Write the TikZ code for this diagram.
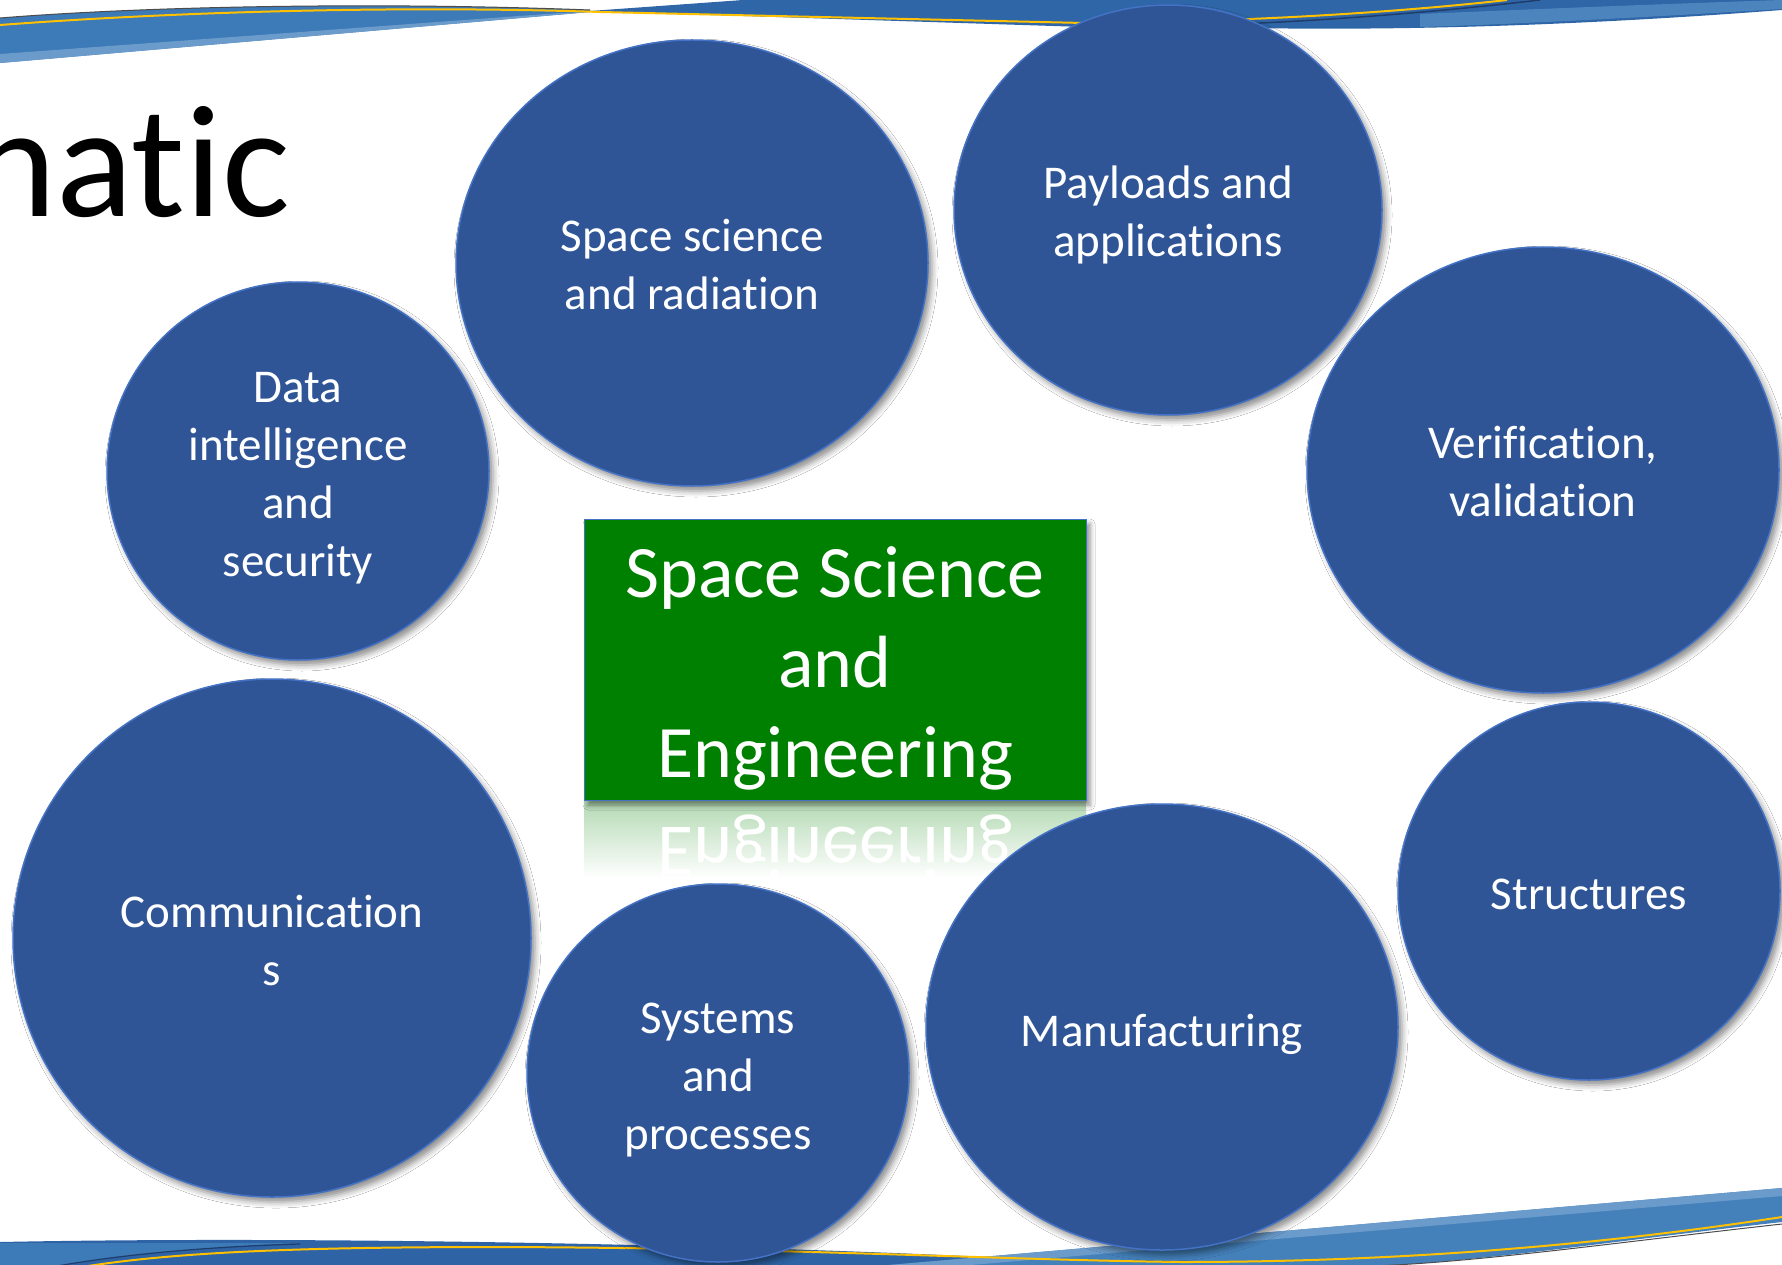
\documentclass[tikz,border=0pt]{standalone}
\usepackage{fontspec}
\usepackage{graphicx}
\setmainfont[Ligatures={NoCommon,NoRare}]{Carlito}
\newcommand\nl{\kern0pt }
\usetikzlibrary{shapes.geometric,shadows.blur}
\definecolor{bub}{HTML}{2F5597}
\definecolor{bubedge}{HTML}{4472C4}
\definecolor{boxgreen}{HTML}{008000}
\definecolor{bandA}{HTML}{3D7AB8}
\definecolor{bandAlight}{HTML}{6A9BCB}
\definecolor{bandB}{HTML}{2E66A7}
\definecolor{bandD}{HTML}{2E64A5}
\definecolor{bandC}{HTML}{4481BB}
\definecolor{gold}{HTML}{FFC000}
\definecolor{navy}{HTML}{1F3D6B}
\begin{document}
\begin{tikzpicture}[x=1pt,y=-1pt,
  bubble/.style={ellipse, fill=bub, draw=bubedge, line width=1.5pt, inner sep=0pt,
    blur shadow={shadow xshift=4pt, shadow yshift=-5pt, shadow blur radius=6pt, shadow opacity=45}},
  bubtext/.style={text=white, align=center, inner sep=0pt, font=\fontsize{47}{58}\selectfont},
  corebox/.style={rectangle, fill=boxgreen, draw=bubedge, line width=1pt, inner sep=0pt,
    blur shadow={shadow xshift=4pt, shadow yshift=-5pt, shadow blur radius=5pt, shadow opacity=45}},
  coretext/.style={text=white, align=center, inner sep=0pt, font=\fontsize{74}{90}\selectfont}]
\useasboundingbox (0,0) rectangle (1782,1265);
\fill[white] (0,0) rectangle (1782,1265);
% top banner
\fill[bandA] (0,18) .. controls (150,6) and (380,2) .. (590,10) -- (590,12) -- (0,63) -- cycle;
\fill[bandAlight] (0,54) -- (560,13) -- (590,12) -- (0,63) -- cycle;
\fill[bandB] (590,11) -- (743,0) -- (1782,0) -- (1782,10) .. controls (1600,24) and (1420,31) .. (1250,28) -- (1084,27) -- cycle;
\fill[bandA!92!white] (1420,14) .. controls (1560,8) and (1690,3) .. (1782,0) -- (1782,9) .. controls (1650,17) and (1520,24) .. (1420,27) -- cycle;
\draw[gray!60!black, line width=1pt] (0,18) .. controls (150,6) and (380,2) .. (590,10);
\draw[navy, line width=1.5pt] (1084,27) .. controls (1250,28) and (1420,14) .. (1540,0);
\draw[gold, line width=2pt] (0,25) .. controls (200,10) and (420,6) .. (600,12) -- (1084,23) .. controls (1250,22) and (1400,12) .. (1507,0);
% bottom banner
\fill[bandD] (0,1242) .. controls (300,1236) and (700,1244) .. (965,1256) .. controls (1150,1263) and (1300,1264) .. (1420,1266) -- (0,1266) -- cycle;
\fill[bandA] (0,1243) -- (300,1243) .. controls (200,1247) and (120,1255) .. (57,1266) -- (0,1266) -- cycle;
\draw[navy, line width=1.2pt] (57,1266) .. controls (120,1255) and (200,1247) .. (300,1244);
\fill[bandC] (877,1266) -- (1782,1188) -- (1782,1222) .. controls (1620,1240) and (1480,1262) .. (1373,1266) -- cycle;
\fill[bandAlight] (877,1266) -- (1782,1188) -- (1782,1196) -- (959,1266) -- cycle;
\draw[gray!60!black, line width=1pt] (1373,1266) .. controls (1480,1262) and (1620,1242) .. (1782,1224);
\draw[gold, line width=2pt] (88,1266) .. controls (180,1252) and (300,1247) .. (500,1247) .. controls (800,1248) and (1000,1260) .. (1182,1262) .. controls (1400,1262) and (1600,1245) .. (1782,1217);
% title fragment
\node[anchor=base east, inner sep=0pt, font=\fontsize{160}{190}\selectfont] (title) at (290,217) {nat\nl ic};
% reflection of the central box
\fill[top color=boxgreen!30, bottom color=white] (584,800) rectangle (1086,878);
\node[anchor=base, inner sep=0pt, text=white, font=\fontsize{74}{90}\selectfont] (refl) at (835,827) {\scalebox{1}[-1]{Engineering}};
% central box
\node[corebox, minimum width=502pt, minimum height=281pt] (core) at (835,659.5) {};
\node[coretext] (coret) at ([yshift=-9pt]core.center) {Space Science\\and\\Engineering};
% bubbles
\node[bubble, minimum width=472pt, minimum height=446pt] (ss) at (692,263) {};
\node[bubtext] (sst) at ([yshift=-2pt]ss.center) {Space science\\and radiat\nl ion};
\node[bubble, minimum width=428pt, minimum height=410pt] (pl) at (1168,210) {};
\node[bubtext] (plt) at ([yshift=-5pt]pl.center) {Payloads and\\applicat\nl ions};
\node[bubble, minimum width=382pt, minimum height=378pt] (di) at (298,471) {};
\node[bubtext] (dit) at ([yshift=-7pt]di.center) {Data\\intelligence\\and\\security};
\node[bubble, minimum width=472pt, minimum height=446pt] (vv) at (1543,470) {};
\node[bubtext] (vvt) at ([yshift=-2pt]vv.center) {Verificat\nl ion,\\validat\nl ion};
\node[bubble, minimum width=518pt, minimum height=518pt] (co) at (272,938) {};
\node[bubtext] (cot) at ([yshift=-2pt]co.center) {Communicat\nl ion\\s};
\node[bubble, minimum width=382pt, minimum height=378pt] (sp) at (718,1073) {};
\node[bubtext] (spt) at ([yshift=-7pt]sp.center) {Systems\\and\\processes};
\node[bubble, minimum width=472pt, minimum height=446pt] (mf) at (1162,1027) {};
\node[bubtext] (mft) at ([yshift=-7pt]mf.center) {Manufacturing};
\node[bubble, minimum width=382pt, minimum height=378pt] (st) at (1589,891) {};
\node[bubtext] (stt) at ([yshift=-3pt]st.center) {Structures};
\end{tikzpicture}
\end{document}
